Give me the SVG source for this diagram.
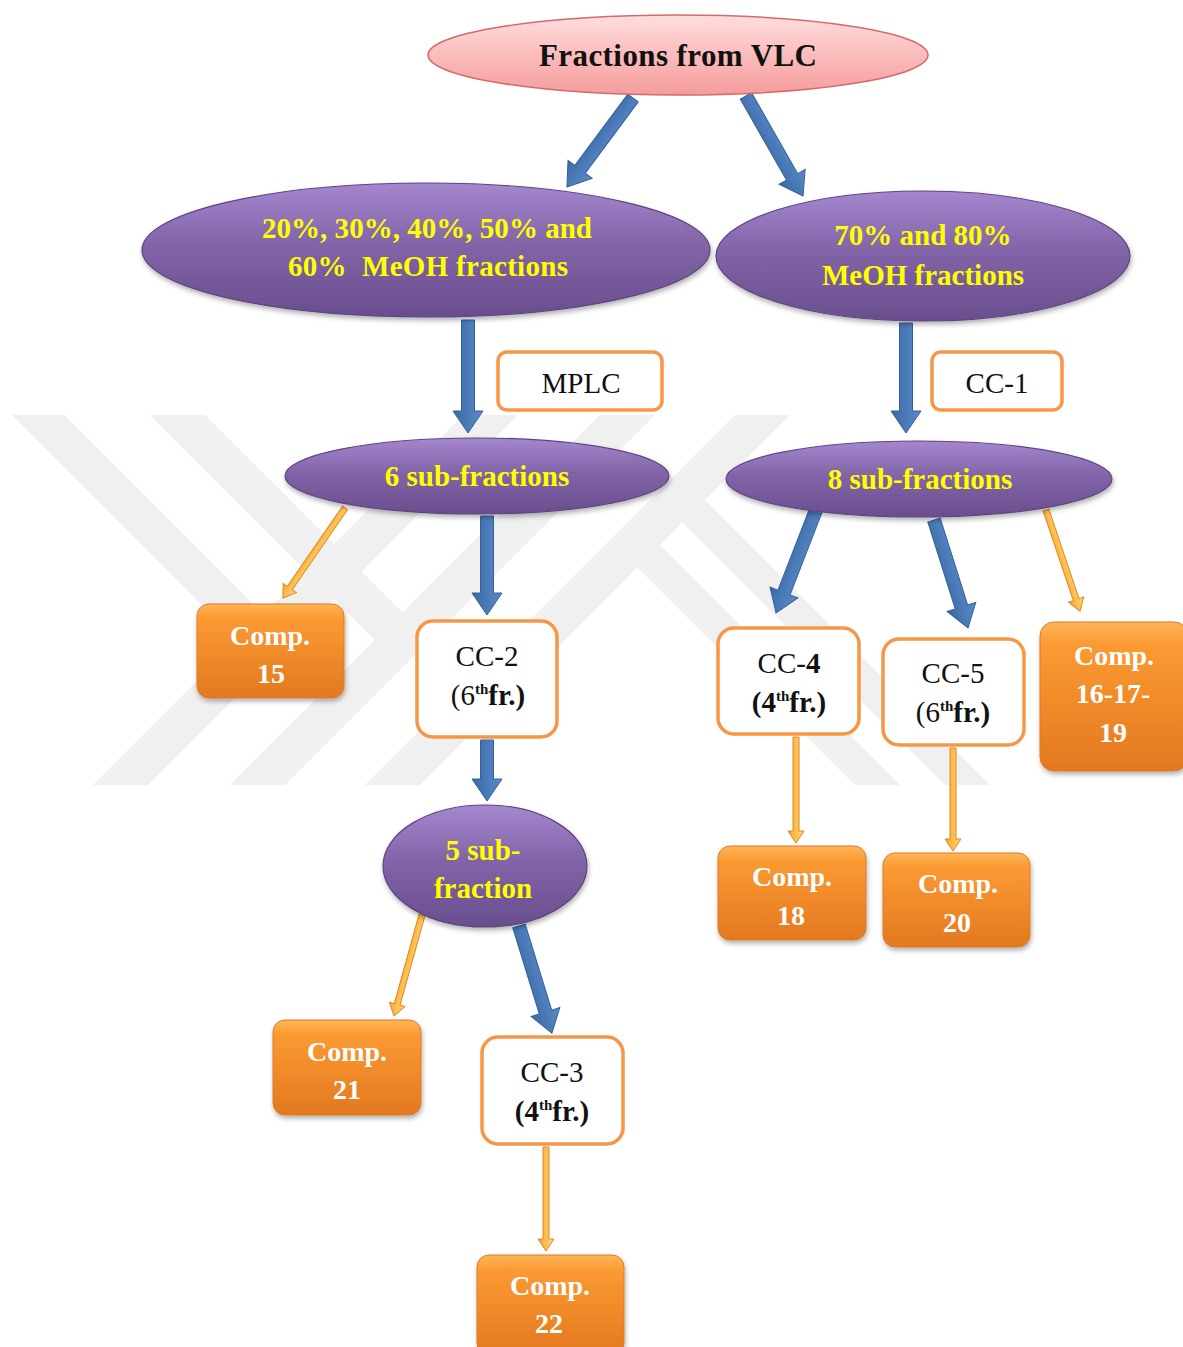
<svg xmlns="http://www.w3.org/2000/svg" width="1183" height="1347" viewBox="0 0 1183 1347">
<defs>
  <linearGradient id="gPink" x1="0" y1="0" x2="0" y2="1">
    <stop offset="0" stop-color="#ffdede"/>
    <stop offset="0.5" stop-color="#fbbcbc"/>
    <stop offset="1" stop-color="#f59c9c"/>
  </linearGradient>
  <linearGradient id="gPurple" x1="0" y1="0" x2="0" y2="1">
    <stop offset="0" stop-color="#a487cf"/>
    <stop offset="0.45" stop-color="#8264a8"/>
    <stop offset="1" stop-color="#6a4e8e"/>
  </linearGradient>
  <linearGradient id="gOrange" x1="0" y1="0" x2="0" y2="1">
    <stop offset="0" stop-color="#fdb659"/>
    <stop offset="0.15" stop-color="#fb9a33"/>
    <stop offset="1" stop-color="#e3781f"/>
  </linearGradient>
  <linearGradient id="gGold" x1="0" y1="0" x2="0" y2="1">
    <stop offset="0" stop-color="#ffd77a"/>
    <stop offset="0.5" stop-color="#fcbf4f"/>
    <stop offset="1" stop-color="#f2a23a"/>
  </linearGradient>
  <linearGradient id="gBlue" x1="0" y1="0" x2="0" y2="1">
    <stop offset="0" stop-color="#5a8bc8"/>
    <stop offset="0.5" stop-color="#4a7bb8"/>
    <stop offset="1" stop-color="#3b68a2"/>
  </linearGradient>
  <filter id="shadow" x="-20%" y="-20%" width="140%" height="150%">
    <feDropShadow dx="1" dy="3" stdDeviation="2.5" flood-color="#000000" flood-opacity="0.3"/>
  </filter>
</defs>
<style>
  .wm { fill: #f0f0f0; }
  .pink { fill: url(#gPink); stroke: #d46a6a; stroke-width: 1.5; }
  .purple { fill: url(#gPurple); stroke: #5d4680; stroke-width: 1.2; filter: url(#shadow); }
  .obox { fill: url(#gOrange); stroke: #e07b22; stroke-width: 1; filter: url(#shadow); }
  .wbox { fill: #ffffff; stroke: #f79646; stroke-width: 3.5; }
  .blue { fill: url(#gBlue); stroke: #34609a; stroke-width: 1; }
  .gold { fill: url(#gGold); stroke: #e0861f; stroke-width: 1; }
  .tb { font-family: "Liberation Serif", "Times New Roman", serif; font-size: 31px; font-weight: bold; fill: #111111; text-anchor: middle; }
  .ty { font-family: "Liberation Serif", "Times New Roman", serif; font-size: 29px; font-weight: bold; fill: #ffff00; text-anchor: middle; }
  .tk { font-family: "Liberation Serif", "Times New Roman", serif; font-size: 29px; fill: #111111; text-anchor: middle; }
  .tw { font-family: "Liberation Serif", "Times New Roman", serif; font-size: 28px; font-weight: bold; fill: #ffffff; text-anchor: middle; }
  .sup { font-size: 15px; font-weight: bold; }
  .bd { font-weight: bold; }
</style>
<rect x="0" y="0" width="1183" height="1347" fill="#ffffff"/>

<!-- faint background watermark -->
<g id="watermark">
  <polygon class="wm" points="12,415 64,415 263.5,614.5 237.5,640.5"/>
  <polygon class="wm" points="150,415 205,415 402.5,612.5 375,640"/>
  <polygon class="wm" points="93,785 148,785 518,415 463,415"/>
  <polygon class="wm" points="230,785 285,785 655,415 600,415"/>
  <polygon class="wm" points="365,785 420,785 790,415 735,415"/>
  <polygon class="wm" points="682,522 705,500 990,785 945,785"/>
  <polygon class="wm" points="637,567 660,545 900,785 855,785"/>
</g>

<!-- connectors -->
<g id="connectors">
  <path class="blue" transform="translate(633,98) rotate(126.6)" d="M0,-6.5 L88.8,-6.5 L88.8,-15 L110.8,0 L88.8,15 L88.8,6.5 L0,6.5 Z"/>
  <path class="blue" transform="translate(746,96) rotate(60.3)" d="M0,-6.5 L93.1,-6.5 L93.1,-15 L115.1,0 L93.1,15 L93.1,6.5 L0,6.5 Z"/>
  <path class="blue" transform="translate(468,320) rotate(90)" d="M0,-6.5 L91,-6.5 L91,-15 L113,0 L91,15 L91,6.5 L0,6.5 Z"/>
  <path class="blue" transform="translate(906,323) rotate(90)" d="M0,-6.5 L88,-6.5 L88,-15 L110,0 L88,15 L88,6.5 L0,6.5 Z"/>
  <path class="blue" transform="translate(487,516) rotate(90)" d="M0,-6.5 L77,-6.5 L77,-15 L99,0 L77,15 L77,6.5 L0,6.5 Z"/>
  <path class="blue" transform="translate(487,740) rotate(90)" d="M0,-6.5 L39,-6.5 L39,-15 L61,0 L39,15 L39,6.5 L0,6.5 Z"/>
  <path class="blue" transform="translate(816,510) rotate(111.2)" d="M0,-6.5 L88.5,-6.5 L88.5,-15 L110.5,0 L88.5,15 L88.5,6.5 L0,6.5 Z"/>
  <path class="blue" transform="translate(934,520) rotate(72.5)" d="M0,-6.5 L91.2,-6.5 L91.2,-15 L113.2,0 L91.2,15 L91.2,6.5 L0,6.5 Z"/>
  <path class="blue" transform="translate(519,926) rotate(72.9)" d="M0,-6.5 L90,-6.5 L90,-15 L112,0 L90,15 L90,6.5 L0,6.5 Z"/>
  <path class="gold" transform="translate(345,508) rotate(124.6)" d="M0,-3 L97.3,-3 L97.3,-8 L109.3,0 L97.3,8 L97.3,3 L0,3 Z"/>
  <path class="gold" transform="translate(1046,510) rotate(71.4)" d="M0,-3 L94.6,-3 L94.6,-8 L106.6,0 L94.6,8 L94.6,3 L0,3 Z"/>
  <path class="gold" transform="translate(796,737) rotate(90)" d="M0,-3 L94,-3 L94,-8 L106,0 L94,8 L94,3 L0,3 Z"/>
  <path class="gold" transform="translate(953,748) rotate(90)" d="M0,-3 L91,-3 L91,-8 L103,0 L91,8 L91,3 L0,3 Z"/>
  <path class="gold" transform="translate(422,915) rotate(105.5)" d="M0,-3 L92.8,-3 L92.8,-8 L104.8,0 L92.8,8 L92.8,3 L0,3 Z"/>
  <path class="gold" transform="translate(546,1147) rotate(90)" d="M0,-3 L92,-3 L92,-8 L104,0 L92,8 L92,3 L0,3 Z"/>
</g>

<!-- nodes -->
<g id="node-vlc">
  <ellipse class="pink" cx="678" cy="55" rx="250" ry="40"/>
  <text class="tb" x="678" y="66" textLength="278">Fractions from VLC</text>
</g>

<g id="node-left-meoh">
  <ellipse class="purple" cx="426" cy="250" rx="284" ry="67"/>
  <text class="ty" x="427" y="238" textLength="330">20%, 30%, 40%, 50% and</text>
  <text class="ty" x="428" y="276" textLength="280" xml:space="preserve">60%  MeOH fractions</text>
</g>

<g id="node-right-meoh">
  <ellipse class="purple" cx="923" cy="256" rx="207" ry="65"/>
  <text class="ty" x="923" y="245">70% and 80%</text>
  <text class="ty" x="923" y="285">MeOH fractions</text>
</g>

<g id="node-mplc">
  <rect class="wbox" x="498" y="352" width="164" height="58" rx="9"/>
  <text class="tk" x="581" y="393">MPLC</text>
</g>

<g id="node-cc1">
  <rect class="wbox" x="932" y="352" width="130" height="58" rx="9"/>
  <text class="tk" x="997" y="393">CC-1</text>
</g>

<g id="node-6sub">
  <ellipse class="purple" cx="477" cy="476" rx="192" ry="38"/>
  <text class="ty" x="477" y="486">6 sub-fractions</text>
</g>

<g id="node-8sub">
  <ellipse class="purple" cx="919" cy="479" rx="193" ry="38"/>
  <text class="ty" x="920" y="489">8 sub-fractions</text>
</g>

<g id="node-comp15">
  <rect class="obox" x="197" y="604" width="147" height="94" rx="12"/>
  <text class="tw" x="270" y="645">Comp.</text>
  <text class="tw" x="271" y="683">15</text>
</g>

<g id="node-cc2">
  <rect class="wbox" x="417" y="621" width="140" height="116" rx="16"/>
  <text class="tk" x="487" y="666">CC-2</text>
  <text class="tk" x="488" y="705">(6<tspan class="sup" dy="-11">th</tspan><tspan class="bd" dy="11">fr.)</tspan></text>
</g>

<g id="node-cc4">
  <rect class="wbox" x="718" y="628" width="141" height="106" rx="16"/>
  <text class="tk" x="789" y="673">CC-<tspan class="bd">4</tspan></text>
  <text class="tk" x="789" y="712"><tspan class="bd">(4</tspan><tspan class="sup" dy="-11">th</tspan><tspan class="bd" dy="11">fr.)</tspan></text>
</g>

<g id="node-cc5">
  <rect class="wbox" x="883" y="639" width="141" height="106" rx="16"/>
  <text class="tk" x="953" y="683">CC-5</text>
  <text class="tk" x="953" y="722">(6<tspan class="sup" dy="-11">th</tspan><tspan class="bd" dy="11">fr.)</tspan></text>
</g>

<g id="node-comp161719">
  <rect class="obox" x="1040" y="622" width="148" height="149" rx="14"/>
  <text class="tw" x="1114" y="665">Comp.</text>
  <text class="tw" x="1113" y="703">16-17-</text>
  <text class="tw" x="1113" y="742">19</text>
</g>

<g id="node-5sub">
  <ellipse class="purple" cx="485" cy="866" rx="102" ry="61"/>
  <text class="ty" x="483" y="860">5 sub-</text>
  <text class="ty" x="483" y="898">fraction</text>
</g>

<g id="node-comp18">
  <rect class="obox" x="718" y="846" width="148" height="94" rx="12"/>
  <text class="tw" x="792" y="886">Comp.</text>
  <text class="tw" x="791" y="925">18</text>
</g>

<g id="node-comp20">
  <rect class="obox" x="883" y="853" width="147" height="94" rx="12"/>
  <text class="tw" x="958" y="893">Comp.</text>
  <text class="tw" x="957" y="932">20</text>
</g>

<g id="node-comp21">
  <rect class="obox" x="273" y="1020" width="148" height="95" rx="12"/>
  <text class="tw" x="347" y="1061">Comp.</text>
  <text class="tw" x="347" y="1099">21</text>
</g>

<g id="node-cc3">
  <rect class="wbox" x="482" y="1037" width="141" height="107" rx="16"/>
  <text class="tk" x="552" y="1082">CC-3</text>
  <text class="tk" x="552" y="1121"><tspan class="bd">(4</tspan><tspan class="sup" dy="-11">th</tspan><tspan class="bd" dy="11">fr.)</tspan></text>
</g>

<g id="node-comp22">
  <rect class="obox" x="477" y="1255" width="147" height="100" rx="12"/>
  <text class="tw" x="550" y="1295">Comp.</text>
  <text class="tw" x="549" y="1333">22</text>
</g>
</svg>
